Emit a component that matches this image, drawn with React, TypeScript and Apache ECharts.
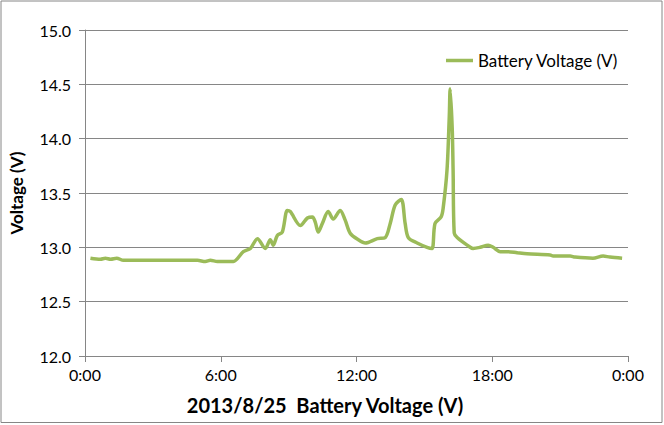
import React, { useEffect, useRef } from "react";
import * as echarts from "echarts";

const seriesName = "Battery Voltage (V)";
const xTitle = "2013/8/25  Battery Voltage (V)";
const yTitle = "Voltage (V)";

// hours since midnight
const hours = [
  0.24, 0.68, 0.9, 1.13, 1.4, 1.7, 2.3, 2.89, 3.5, 4.22, 4.97, 5.32, 5.54, 5.85, 6.2, 6.56,
  7.0, 7.31, 7.62, 7.97, 8.19, 8.32, 8.5, 8.72, 8.94, 9.07, 9.52, 9.83, 10.05, 10.18, 10.31,
  10.49, 10.75, 10.97, 11.28, 11.5, 11.72, 12.08, 12.39, 12.92, 13.27, 13.49, 13.71, 13.98,
  14.15, 14.29, 14.68, 15.12, 15.34, 15.47, 15.74, 15.83, 16.0, 16.1, 16.14, 16.23, 16.27,
  16.32, 16.45, 16.89, 17.15, 17.46, 17.82, 18.04, 18.35, 18.7, 19.1, 19.54, 20.56, 20.69,
  21.44, 21.66, 22.45, 22.9, 23.2, 23.74,
];
const voltages = [
  12.9, 12.89, 12.9, 12.89, 12.9, 12.88, 12.88, 12.88, 12.88, 12.88, 12.88, 12.87, 12.88,
  12.87, 12.87, 12.87, 12.96, 12.99, 13.08, 12.99, 13.07, 13.02, 13.11, 13.14, 13.34, 13.33,
  13.2, 13.27, 13.28, 13.23, 13.14, 13.22, 13.33, 13.26, 13.34, 13.25, 13.13, 13.07, 13.04,
  13.08, 13.09, 13.22, 13.39, 13.44, 13.22, 13.09, 13.04, 13.0, 12.99, 13.22, 13.28, 13.36,
  13.71, 14.2, 14.46, 14.1, 13.71, 13.13, 13.09, 13.02, 12.99, 13.0, 13.02, 13.0, 12.96,
  12.96, 12.95, 12.94, 12.93, 12.92, 12.92, 12.91, 12.9, 12.92, 12.91, 12.9,
];

const yMin = 12;
const yMax = 15;
const yStep = 0.5;
const xMin = 0;
const xMax = 24;
const xStep = 6;

const FONT = "Lato";
const GRAY = "#868686";

export default function App() {
  const ref = useRef<HTMLDivElement>(null);
  useEffect(() => {
    if (!ref.current) return;
    const chart = echarts.init(ref.current, undefined, { renderer: "svg" });
    const data = hours.map((h, i) => [h, voltages[i]]);
    chart.setOption({
      animation: false,
      backgroundColor: "#ffffff",
      textStyle: { fontFamily: FONT },
      grid: { left: 84.5, right: 36, top: 30, bottom: 69, containLabel: false },
      graphic: [
        {
          type: "rect",
          shape: { x: 1, y: 1, width: 661, height: 421.5 },
          style: { fill: "none", stroke: GRAY, lineWidth: 1 },
          silent: true,
        },
        {
          type: "text",
          x: 325,
          y: 405,
          style: {
            text: xTitle,
            fontFamily: FONT,
            fontSize: 20,
            fontWeight: "bold",
            fill: "#000",
            align: "center",
            verticalAlign: "middle",
          },
          silent: true,
        },
      ],
      legend: {
        show: true,
        left: 441,
        top: 47,
        icon: "rect",
        itemWidth: 27,
        itemHeight: 3.5,
        itemGap: 4,
        textStyle: { fontFamily: FONT, fontSize: 17, color: "#000" },
        data: [seriesName],
      },
      xAxis: {
        type: "value",
        min: xMin,
        max: xMax,
        interval: xStep,
        axisLine: { show: true, lineStyle: { color: GRAY, width: 1 } },
        axisTick: { show: true, length: 6, inside: false, lineStyle: { color: GRAY } },
        axisLabel: {
          fontFamily: FONT,
          fontSize: 16,
          color: "#000",
          margin: 10,
          formatter: (v: number) => `${Math.round(v) % 24}:00`,
        },
        splitLine: { show: false },
      },
      yAxis: {
        type: "value",
        min: yMin,
        max: yMax,
        interval: yStep,
        name: yTitle,
        nameLocation: "middle",
        nameGap: 60,
        nameRotate: 90,
        nameTextStyle: { fontFamily: FONT, fontSize: 17, fontWeight: "bold", color: "#000" },
        axisLine: { show: true, lineStyle: { color: GRAY, width: 1 } },
        axisTick: { show: true, length: 6, inside: false, lineStyle: { color: GRAY } },
        axisLabel: {
          fontFamily: FONT,
          fontSize: 16,
          color: "#000",
          margin: 14,
          formatter: (v: number) => v.toFixed(1),
        },
        splitLine: { show: true, lineStyle: { color: GRAY, width: 1 } },
      },
      series: [
        {
          name: seriesName,
          type: "line",
          data,
          smooth: 0.3,
          showSymbol: false,
          symbol: "none",
          lineStyle: { color: "#9BBB59", width: 3.5 },
          itemStyle: { color: "#9BBB59" },
        },
      ],
    });
    return () => chart.dispose();
  }, []);
  return (
    <div
      ref={ref}
      style={{ position: "absolute", left: 0, top: 0, width: 664, height: 425 }}
    />
  );
}
